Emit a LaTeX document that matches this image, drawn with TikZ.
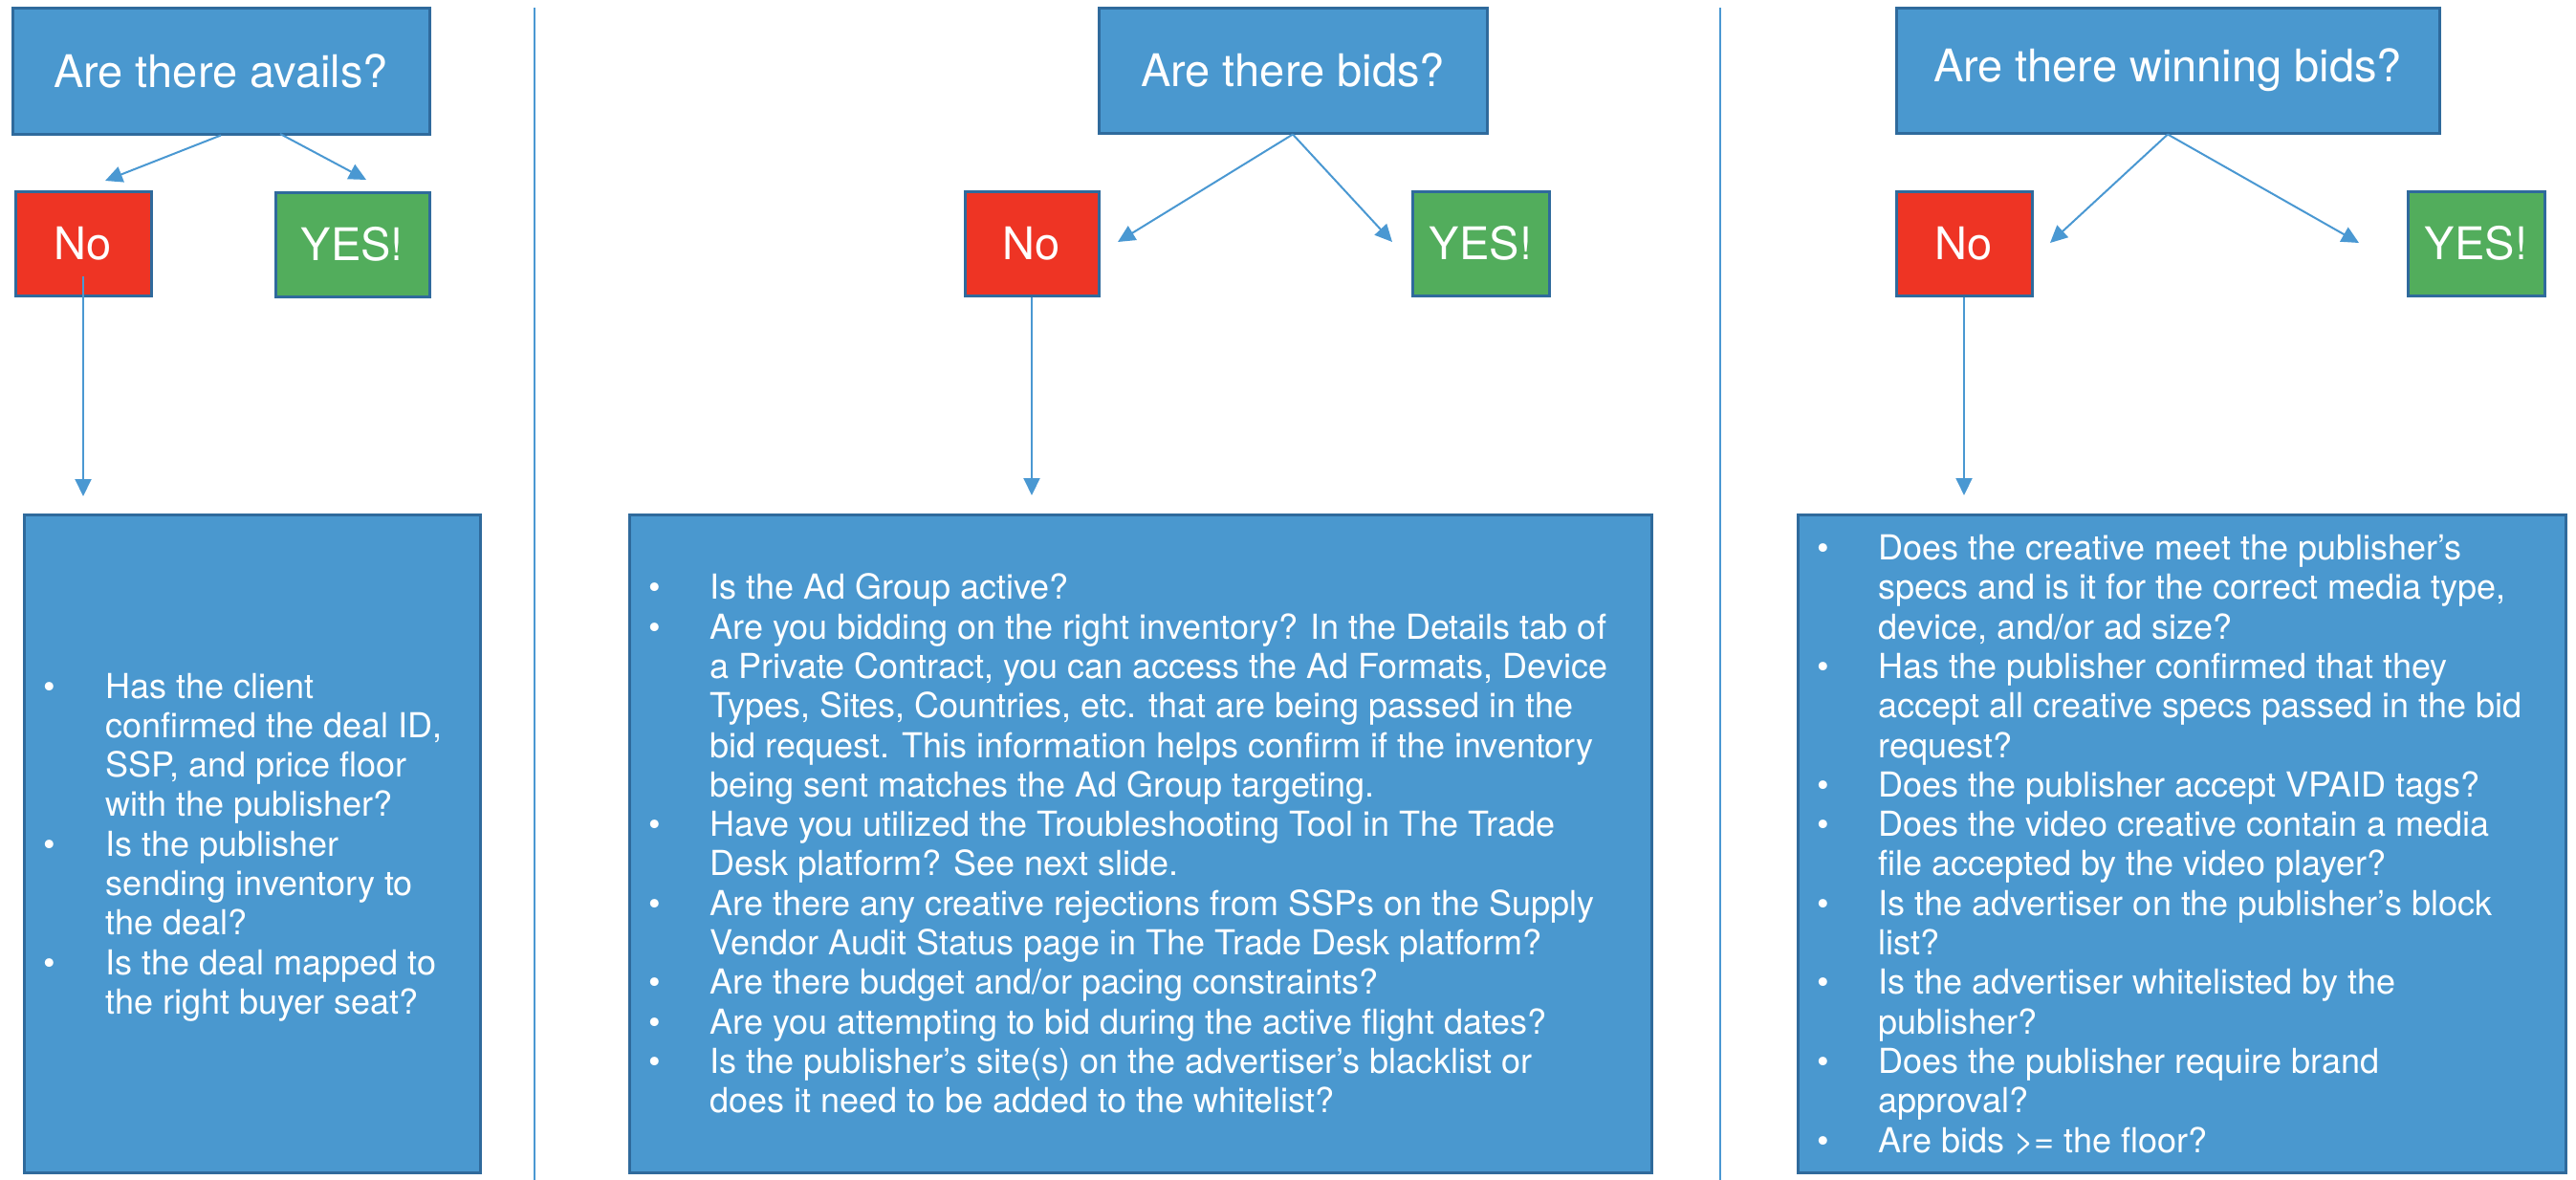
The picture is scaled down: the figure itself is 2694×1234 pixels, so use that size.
\documentclass[tikz,border=0pt]{standalone}
\usepackage{fontspec}
\setmainfont{TeX Gyre Heros}
\usetikzlibrary{arrows.meta}
\definecolor{boxblue}{HTML}{4A98CF}
\definecolor{edgeblue}{HTML}{2F6A9C}
\definecolor{nored}{HTML}{EE3424}
\definecolor{yesgreen}{HTML}{52AD5C}
\definecolor{linkblue}{HTML}{4A98D2}
\begin{document}
\begin{tikzpicture}[x=1pt,y=-1pt,
  qbox/.style={draw=edgeblue, line width=3pt, fill=boxblue, text=white, inner sep=0pt, font=\fontsize{47}{56}\selectfont},
  nobox/.style={qbox, fill=nored},
  yesbox/.style={qbox, fill=yesgreen},
  listbox/.style={draw=edgeblue, line width=3pt, fill=boxblue, inner sep=0pt},
  listtext/.style={text=white, inner sep=0pt, anchor=west, font=\fontsize{36}{41.3}\selectfont},
  link/.style={draw=linkblue, line width=2pt, -{Triangle[length=18pt,width=17pt]}},
  divider/.style={draw=linkblue, line width=2pt}]
\useasboundingbox (0,0) rectangle (2694,1234);

% dividers
\draw[divider] (559,8) -- (559,1234);
\draw[divider] (1799,8) -- (1799,1234);

% ---------- panel 1 ----------
\node[qbox, minimum width=436pt, minimum height=132pt] (q1) at (231,74) {Are there avails?};
\node[nobox, minimum width=142pt, minimum height=109pt] (n1) at (87,254.5) {No};
\node[yesbox, minimum width=161pt, minimum height=109pt] (y1) at (368.5,255.5) {YES!};
\node[listbox, minimum width=477pt, minimum height=688pt] (l1) at (263.5,882) {};
\node[listtext] (t1) at ([xshift=22pt,yshift=-5pt]l1.west) {\begin{tabular}{@{}p{65pt}@{}l@{}}
\textbullet & Has the client\\
 & confirmed the deal ID,\\
 & SSP, and price floor\\
 & with the publisher?\\
\textbullet & Is the publisher\\
 & sending inventory to\\
 & the deal?\\
\textbullet & Is the deal mapped to\\
 & the right buyer seat?
\end{tabular}};
\coordinate (q1r) at (293,140);
\coordinate (n1tip) at (110,189);
\coordinate (y1tip) at (383,188);
\coordinate (n1s) at (87,289);
\coordinate (l1tip) at (87,519);
\draw[link] (q1.south) -- (n1tip);
\draw[link] (q1r) -- (y1tip);
\draw[link] (n1s) -- (l1tip);

% ---------- panel 2 ----------
\node[qbox, minimum width=406pt, minimum height=131pt] (q2) at (1352,73.5) {Are there bids?};
\node[nobox, minimum width=140pt, minimum height=109pt] (n2) at (1079,254.5) {No};
\node[yesbox, minimum width=143pt, minimum height=109pt] (y2) at (1548.5,254.5) {YES!};
\node[listbox, minimum width=1069pt, minimum height=688pt] (l2) at (1192.5,882) {};
\node[listtext] (t2) at ([xshift=22pt,yshift=-5pt]l2.west) {\begin{tabular}{@{}p{64pt}@{}l@{}}
\textbullet & Is the Ad Group active?\\
\textbullet & Are you bidding on the right inventory? In the Details tab of\\
 & a Private Contract, you can access the Ad Formats, Device\\
 & Types, Sites, Countries, etc. that are being passed in the\\
 & bid request. This information helps confirm if the inventory\\
 & being sent matches the Ad Group targeting.\\
\textbullet & Have you utilized the Troubleshooting Tool in The Trade\\
 & Desk platform? See next slide.\\
\textbullet & Are there any creative rejections from SSPs on the Supply\\
 & Vendor Audit Status page in The Trade Desk platform?\\
\textbullet & Are there budget and/or pacing constraints?\\
\textbullet & Are you attempting to bid during the active flight dates?\\
\textbullet & Is the publisher’s site(s) on the advertiser’s blacklist or\\
 & does it need to be added to the whitelist?
\end{tabular}};
\coordinate (n2tip) at (1169,253);
\coordinate (y2tip) at (1456,253);
\coordinate (l2tip) at (1079,518);
\draw[link] (q2.south) -- (n2tip);
\draw[link] (q2.south) -- (y2tip);
\draw[link] (n2.south) -- (l2tip);

% ---------- panel 3 ----------
\node[qbox, minimum width=568pt, minimum height=131pt] (q3) at (2267,73.5) {Are there winning bids?};
\node[nobox, minimum width=142pt, minimum height=109pt] (n3) at (2054,254.5) {No};
\node[yesbox, minimum width=143pt, minimum height=109pt] (y3) at (2589.5,254.5) {YES!};
\node[listbox, minimum width=803pt, minimum height=688pt] (l3) at (2281.5,882) {};
\node[listtext] (t3) at ([xshift=22pt,yshift=-5pt]l3.west) {\begin{tabular}{@{}p{64pt}@{}l@{}}
\textbullet & Does the creative meet the publisher’s\\
 & specs and is it for the correct media type,\\
 & device, and/or ad size?\\
\textbullet & Has the publisher confirmed that they\\
 & accept all creative specs passed in the bid\\
 & request?\\
\textbullet & Does the publisher accept VPAID tags?\\
\textbullet & Does the video creative contain a media\\
 & file accepted by the video player?\\
\textbullet & Is the advertiser on the publisher’s block\\
 & list?\\
\textbullet & Is the advertiser whitelisted by the\\
 & publisher?\\
\textbullet & Does the publisher require brand\\
 & approval?\\
\textbullet & Are bids >= the floor?
\end{tabular}};
\coordinate (n3tip) at (2144,254);
\coordinate (y3tip) at (2467,254);
\coordinate (l3tip) at (2054,518);
\draw[link] (q3.south) -- (n3tip);
\draw[link] (q3.south) -- (y3tip);
\draw[link] (n3.south) -- (l3tip);
\end{tikzpicture}
\end{document}
